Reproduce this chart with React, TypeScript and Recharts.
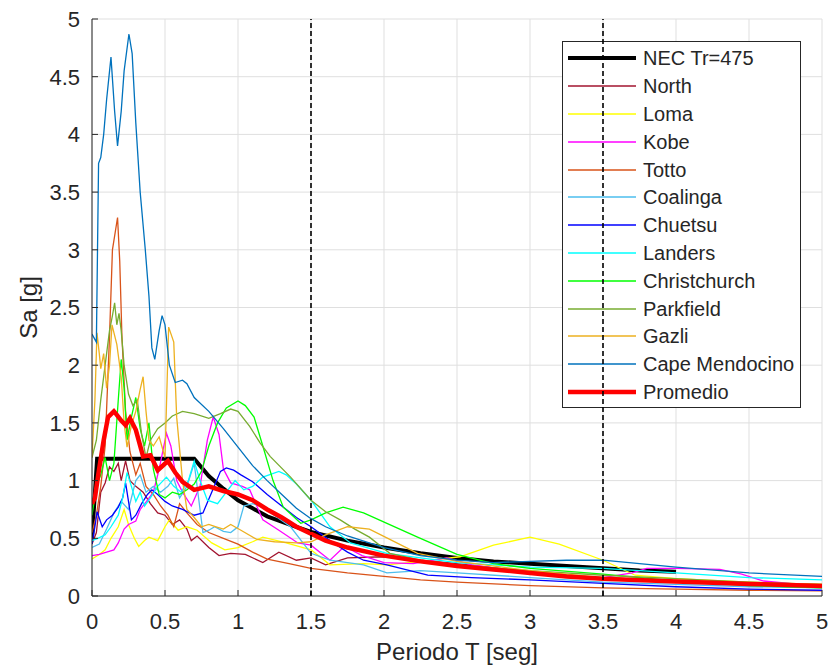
import { CartesianGrid, Legend, Line, LineChart, ReferenceLine, XAxis, YAxis } from "recharts";

type Pair = [number, number];

const FONT = '"Liberation Sans", Arial, Helvetica, sans-serif';
const INK = "#262626";

const periodTicks = [0, 0.5, 1, 1.5, 2, 2.5, 3, 3.5, 4, 4.5, 5];
const saTicks = [0, 0.5, 1, 1.5, 2, 2.5, 3, 3.5, 4, 4.5, 5];
const markedPeriods = [1.5, 3.5];

// [T (s), Sa (g)]
const necTr475: Pair[] = [
  [0, 0.5], [0.035, 1.19], [0.7, 1.19], [0.8, 1.04], [0.9, 0.93], [1.0, 0.83], [1.1, 0.76], [1.2, 0.69],
  [1.35, 0.62], [1.5, 0.555], [1.75, 0.48], [2.0, 0.42], [2.25, 0.37], [2.5, 0.33], [2.75, 0.3],
  [3.0, 0.28], [3.25, 0.26], [3.5, 0.24], [3.75, 0.22], [4.0, 0.21],
];

const north: Pair[] = [
  [0, 0.45], [0.03, 0.55], [0.06, 0.9], [0.09, 0.98], [0.12, 1.12], [0.15, 1.08], [0.18, 1.15], [0.2, 1.0],
  [0.23, 1.17], [0.26, 1.0], [0.3, 0.95], [0.35, 0.9], [0.4, 0.8], [0.45, 0.72], [0.5, 0.7], [0.55, 0.62],
  [0.6, 0.66], [0.65, 0.58], [0.68, 0.48], [0.72, 0.52], [0.8, 0.42], [0.87, 0.35], [0.95, 0.37],
  [1.05, 0.36], [1.17, 0.29], [1.28, 0.38], [1.4, 0.31], [1.5, 0.33], [1.6, 0.27], [1.75, 0.33],
  [2.0, 0.34], [2.25, 0.31], [2.5, 0.28], [3.0, 0.21], [3.5, 0.15], [4.0, 0.12], [4.5, 0.1], [5.0, 0.08],
];

const loma: Pair[] = [
  [0, 0.32], [0.05, 0.36], [0.09, 0.4], [0.13, 0.5], [0.18, 0.6], [0.22, 0.75], [0.25, 0.62], [0.29, 0.5],
  [0.32, 0.43], [0.36, 0.48], [0.39, 0.51], [0.45, 0.48], [0.5, 0.6], [0.53, 0.66], [0.59, 0.57],
  [0.65, 0.6], [0.72, 0.57], [0.82, 0.46], [0.91, 0.4], [1.0, 0.42], [1.1, 0.47], [1.17, 0.51],
  [1.33, 0.46], [1.5, 0.4], [1.63, 0.27], [1.86, 0.28], [2.02, 0.27], [2.25, 0.3], [2.52, 0.34],
  [2.75, 0.44], [3.0, 0.51], [3.2, 0.45], [3.5, 0.31], [3.72, 0.18], [4.0, 0.15], [4.5, 0.12], [5.0, 0.1],
];

const kobe: Pair[] = [
  [0, 0.35], [0.05, 0.36], [0.1, 0.38], [0.15, 0.4], [0.18, 0.46], [0.22, 0.58], [0.25, 0.62], [0.3, 0.65],
  [0.33, 0.75], [0.38, 0.83], [0.42, 0.9], [0.46, 1.1], [0.51, 1.41], [0.54, 1.3], [0.58, 1.0], [0.62, 0.9],
  [0.68, 0.78], [0.74, 0.95], [0.79, 1.35], [0.83, 1.55], [0.87, 1.4], [0.9, 1.1], [0.95, 0.98],
  [1.03, 0.95], [1.08, 0.92], [1.17, 0.66], [1.28, 0.57], [1.41, 0.46], [1.5, 0.44], [1.58, 0.36],
  [1.63, 0.31], [1.73, 0.43], [1.85, 0.35], [2.0, 0.29], [2.2, 0.28], [2.43, 0.33], [2.6, 0.27],
  [3.0, 0.2], [3.5, 0.16], [3.7, 0.2], [3.8, 0.24], [4.0, 0.24], [4.3, 0.23], [4.45, 0.19], [4.6, 0.13],
  [5.0, 0.08],
];

const totto: Pair[] = [
  [0, 0.55], [0.03, 0.7], [0.06, 0.95], [0.09, 1.3], [0.12, 2.25], [0.14, 3.0], [0.175, 3.28], [0.19, 2.9],
  [0.205, 2.25], [0.23, 1.6], [0.26, 1.25], [0.3, 1.05], [0.33, 1.15], [0.37, 0.95], [0.42, 0.88],
  [0.47, 0.78], [0.52, 0.7], [0.56, 0.6], [0.6, 0.8], [0.65, 0.72], [0.72, 0.62], [0.8, 0.55], [0.9, 0.5],
  [1.0, 0.45], [1.1, 0.38], [1.2, 0.32], [1.35, 0.28], [1.5, 0.24], [1.75, 0.2], [2.0, 0.17],
  [2.25, 0.14], [2.5, 0.12], [3.0, 0.09], [3.5, 0.07], [4.0, 0.06], [4.5, 0.05], [5.0, 0.045],
];

const coalinga: Pair[] = [
  [0, 0.42], [0.05, 0.45], [0.1, 0.58], [0.15, 0.72], [0.2, 0.82], [0.25, 0.75], [0.3, 1.0], [0.33, 1.05],
  [0.37, 0.9], [0.42, 0.95], [0.47, 0.9], [0.52, 0.95], [0.56, 1.02], [0.6, 0.85], [0.65, 0.95],
  [0.7, 1.15], [0.76, 0.55], [0.8, 0.57], [0.84, 0.6], [0.9, 0.56], [0.95, 0.55], [1.0, 0.6], [1.04, 0.78],
  [1.1, 0.8], [1.17, 0.77], [1.27, 0.68], [1.36, 0.6], [1.5, 0.37], [1.63, 0.31], [1.86, 0.27],
  [2.02, 0.2], [2.25, 0.22], [2.5, 0.2], [3.0, 0.16], [3.5, 0.12], [4.0, 0.1], [4.5, 0.08], [5.0, 0.07],
];

const chuetsu: Pair[] = [
  [0, 0.45], [0.02, 0.6], [0.035, 0.73], [0.07, 0.6], [0.1, 0.66], [0.14, 0.7], [0.18, 0.77], [0.21, 0.85],
  [0.23, 0.98], [0.27, 0.66], [0.3, 0.7], [0.34, 0.8], [0.38, 0.88], [0.41, 0.92], [0.45, 0.88],
  [0.5, 0.82], [0.55, 0.78], [0.62, 0.75], [0.7, 0.7], [0.76, 0.72], [0.82, 0.9], [0.88, 1.08],
  [0.92, 1.11], [0.97, 1.09], [1.02, 1.05], [1.1, 0.99], [1.2, 0.88], [1.3, 0.78], [1.4, 0.68],
  [1.5, 0.6], [1.63, 0.48], [1.75, 0.38], [1.86, 0.31], [2.02, 0.27], [2.3, 0.18], [2.6, 0.16],
  [3.0, 0.14], [3.5, 0.11], [4.0, 0.08], [4.5, 0.06], [5.0, 0.05],
];

const landers: Pair[] = [
  [0, 0.48], [0.04, 0.5], [0.09, 0.53], [0.13, 0.6], [0.18, 0.7], [0.21, 0.85], [0.24, 1.07], [0.27, 0.95],
  [0.3, 0.82], [0.33, 0.9], [0.36, 0.78], [0.4, 0.85], [0.45, 0.95], [0.51, 1.03], [0.56, 0.95],
  [0.61, 0.9], [0.66, 1.0], [0.7, 1.17], [0.74, 1.0], [0.79, 0.83], [0.86, 0.8], [0.92, 0.9], [0.98, 1.0],
  [1.04, 0.92], [1.1, 0.95], [1.17, 1.03], [1.28, 1.08], [1.33, 1.05], [1.4, 0.97], [1.5, 0.83],
  [1.63, 0.6], [1.77, 0.46], [2.02, 0.37], [2.25, 0.33], [2.5, 0.29], [3.0, 0.25], [3.5, 0.24],
  [4.0, 0.2], [4.5, 0.16], [5.0, 0.14],
];

const christchurch: Pair[] = [
  [0, 0.7], [0.03, 0.95], [0.06, 1.05], [0.09, 1.2], [0.12, 1.0], [0.15, 1.15], [0.18, 1.7], [0.2, 2.05],
  [0.22, 1.8], [0.24, 1.35], [0.27, 1.55], [0.3, 1.72], [0.33, 1.45], [0.36, 1.3], [0.39, 1.5],
  [0.42, 1.1], [0.46, 0.88], [0.5, 0.85], [0.55, 0.9], [0.6, 0.88], [0.65, 0.92], [0.7, 0.97],
  [0.75, 1.08], [0.8, 1.3], [0.86, 1.5], [0.92, 1.63], [1.0, 1.69], [1.05, 1.65], [1.11, 1.55],
  [1.17, 1.3], [1.24, 1.0], [1.31, 0.77], [1.43, 0.63], [1.5, 0.66], [1.6, 0.72], [1.72, 0.77],
  [1.86, 0.72], [2.02, 0.63], [2.23, 0.51], [2.5, 0.36], [2.75, 0.28], [3.0, 0.24], [3.5, 0.19],
  [4.0, 0.13], [4.5, 0.09], [5.0, 0.07],
];

const parkfield: Pair[] = [
  [0, 1.2], [0.03, 1.35], [0.06, 1.7], [0.09, 2.0], [0.12, 2.3], [0.14, 2.43], [0.155, 2.54], [0.17, 2.35],
  [0.185, 2.45], [0.2, 2.3], [0.22, 2.0], [0.25, 1.75], [0.28, 1.65], [0.31, 1.7], [0.34, 1.4],
  [0.37, 1.2], [0.4, 1.35], [0.45, 1.45], [0.5, 1.5], [0.55, 1.56], [0.62, 1.6], [0.7, 1.58],
  [0.8, 1.54], [0.88, 1.58], [0.95, 1.62], [1.0, 1.6], [1.08, 1.47], [1.15, 1.33], [1.22, 1.21],
  [1.36, 1.03], [1.5, 0.83], [1.6, 0.73], [1.7, 0.66], [1.8, 0.58], [1.9, 0.51], [2.04, 0.37],
  [2.25, 0.31], [2.5, 0.27], [3.0, 0.22], [3.5, 0.18], [4.0, 0.15], [4.5, 0.12], [5.0, 0.1],
];

const gazli: Pair[] = [
  [0, 1.2], [0.02, 1.7], [0.034, 2.28], [0.05, 2.1], [0.06, 1.97], [0.08, 2.1], [0.1, 1.8], [0.12, 2.0],
  [0.137, 2.35], [0.17, 2.18], [0.2, 1.9], [0.22, 1.5], [0.24, 1.29], [0.27, 1.48], [0.3, 1.6],
  [0.33, 1.79], [0.35, 1.9], [0.37, 1.6], [0.39, 1.35], [0.42, 1.3], [0.46, 1.38], [0.5, 1.2],
  [0.525, 2.33], [0.56, 2.2], [0.58, 1.55], [0.62, 1.0], [0.65, 0.75], [0.7, 0.68], [0.75, 0.6],
  [0.8, 0.62], [0.85, 0.6], [0.9, 0.58], [0.95, 0.62], [1.02, 0.57], [1.13, 0.49], [1.25, 0.47],
  [1.4, 0.46], [1.5, 0.47], [1.6, 0.53], [1.75, 0.6], [1.9, 0.58], [2.04, 0.49], [2.23, 0.37],
  [2.5, 0.3], [3.0, 0.22], [3.5, 0.16], [4.0, 0.13], [4.5, 0.11], [5.0, 0.1],
];

const capeMendocino: Pair[] = [
  [0, 2.27], [0.03, 2.2], [0.045, 3.75], [0.06, 3.8], [0.08, 4.0], [0.1, 4.3], [0.13, 4.67], [0.155, 4.2],
  [0.175, 3.9], [0.2, 4.2], [0.22, 4.55], [0.253, 4.87], [0.275, 4.7], [0.3, 4.1], [0.33, 3.5],
  [0.365, 3.0], [0.39, 2.6], [0.41, 2.15], [0.43, 2.05], [0.46, 2.3], [0.48, 2.43], [0.5, 2.35],
  [0.53, 2.0], [0.57, 1.85], [0.62, 1.87], [0.65, 1.84], [0.7, 1.72], [0.8, 1.6], [0.9, 1.45],
  [1.0, 1.29], [1.1, 1.13], [1.2, 1.0], [1.3, 0.88], [1.4, 0.76], [1.5, 0.67], [1.6, 0.6],
  [1.75, 0.52], [2.0, 0.42], [2.25, 0.35], [2.5, 0.31], [2.75, 0.29], [3.0, 0.3], [3.25, 0.31],
  [3.5, 0.31], [3.75, 0.28], [4.0, 0.25], [4.5, 0.2], [5.0, 0.17],
];

const promedio: Pair[] = [
  [0, 0.8], [0.02, 0.85], [0.045, 1.07], [0.08, 1.35], [0.11, 1.55], [0.15, 1.6], [0.17, 1.57],
  [0.2, 1.52], [0.23, 1.48], [0.26, 1.54], [0.3, 1.44], [0.35, 1.21], [0.4, 1.22], [0.45, 1.09],
  [0.52, 1.17], [0.57, 1.07], [0.62, 0.99], [0.7, 0.92], [0.8, 0.95], [0.9, 0.91], [1.0, 0.88],
  [1.1, 0.83], [1.2, 0.75], [1.3, 0.68], [1.4, 0.6], [1.5, 0.54], [1.6, 0.48], [1.75, 0.42],
  [2.0, 0.35], [2.25, 0.3], [2.5, 0.26], [2.75, 0.23], [3.0, 0.2], [3.25, 0.17], [3.5, 0.15],
  [4.0, 0.125], [4.5, 0.105], [5.0, 0.087],
];

const series = [
  { name: "NEC Tr=475", points: necTr475, color: "#000000", width: 4 },
  { name: "North", points: north, color: "#A2142F", width: 1.3 },
  { name: "Loma", points: loma, color: "#FFFF00", width: 1.3 },
  { name: "Kobe", points: kobe, color: "#FF00FF", width: 1.3 },
  { name: "Totto", points: totto, color: "#D95319", width: 1.3 },
  { name: "Coalinga", points: coalinga, color: "#4DBEEE", width: 1.3 },
  { name: "Chuetsu", points: chuetsu, color: "#0000FF", width: 1.3 },
  { name: "Landers", points: landers, color: "#00FFFF", width: 1.3 },
  { name: "Christchurch", points: christchurch, color: "#00FF00", width: 1.3 },
  { name: "Parkfield", points: parkfield, color: "#77AC30", width: 1.3 },
  { name: "Gazli", points: gazli, color: "#EDB120", width: 1.3 },
  { name: "Cape Mendocino", points: capeMendocino, color: "#0072BD", width: 1.3 },
  { name: "Promedio", points: promedio, color: "#FF0000", width: 4.5 },
];

const toRows = (points: Pair[]) => points.map(([T, Sa]) => ({ T, Sa }));

function LegendBox() {
  return (
    <div
      style={{
        boxSizing: "border-box",
        width: 239,
        height: 367,
        border: `1px solid ${INK}`,
        background: "#fff",
        paddingTop: 2.5,
        fontFamily: FONT,
      }}
    >
      {series.map((s) => (
        <div key={s.name} style={{ display: "flex", alignItems: "center", height: 27.8 }}>
          <svg width={80} height={10} style={{ flex: "none" }}>
            <line x1={5} x2={73} y1={5} y2={5} stroke={s.color} strokeWidth={s.width} />
          </svg>
          <span style={{ fontSize: 20, lineHeight: "20px", color: INK, whiteSpace: "nowrap" }}>{s.name}</span>
        </div>
      ))}
    </div>
  );
}

function YTitle({ viewBox }: any) {
  const x = viewBox.x + 37;
  const y = viewBox.y + viewBox.height / 2;
  return (
    <text x={x} y={y} transform={`rotate(-90 ${x} ${y})`} textAnchor="middle" fill={INK} fontSize={24}>
      Sa [g]
    </text>
  );
}

export default function App() {
  return (
    <div style={{ position: "absolute", left: 0, top: 0, width: 830, height: 670, background: "#fff", fontFamily: FONT }}>
      <LineChart width={830} height={670} margin={{ top: 19, right: 8, left: 0, bottom: 0 }}>
        <CartesianGrid stroke="#dfdfdf" strokeWidth={1} />
        <XAxis
          dataKey="T"
          type="number"
          domain={[0, 5]}
          ticks={periodTicks}
          allowDataOverflow
          height={74}
          stroke={INK}
          tickSize={-6}
          tickMargin={23}
          tick={{ fill: INK, fontSize: 22 }}
          label={{ value: "Periodo T [seg]", position: "insideBottom", offset: 10, fill: INK, fontSize: 24 }}
        />
        <XAxis
          xAxisId="top"
          orientation="top"
          dataKey="T"
          type="number"
          domain={[0, 5]}
          ticks={periodTicks}
          allowDataOverflow
          height={0}
          stroke={INK}
          tickSize={-6}
          tick={false}
        />
        <YAxis
          type="number"
          domain={[0, 5]}
          ticks={saTicks}
          allowDataOverflow
          width={92}
          stroke={INK}
          tickSize={-6}
          tickMargin={18}
          tick={{ fill: INK, fontSize: 22 }}
          label={<YTitle />}
        />
        <YAxis
          yAxisId="right"
          orientation="right"
          type="number"
          domain={[0, 5]}
          ticks={saTicks}
          allowDataOverflow
          width={0}
          stroke={INK}
          tickSize={-6}
          tick={false}
        />
        {series.map((s) => (
          <Line
            key={s.name}
            name={s.name}
            data={toRows(s.points)}
            dataKey="Sa"
            type="linear"
            stroke={s.color}
            strokeWidth={s.width}
            dot={false}
            activeDot={false}
            isAnimationActive={false}
          />
        ))}
        <Legend
          layout="vertical"
          align="center"
          verticalAlign="middle"
          wrapperStyle={{ left: 562, top: 41, width: 239, height: 367 }}
          content={() => <LegendBox />}
        />
      </LineChart>
      <div style={{ position: "absolute", left: 0, top: 0, pointerEvents: "none" }}>
        <LineChart width={830} height={670} margin={{ top: 19, right: 8, left: 92, bottom: 74 }} data={toRows(necTr475)}>
          <XAxis dataKey="T" type="number" domain={[0, 5]} allowDataOverflow hide />
          <YAxis type="number" domain={[0, 5]} allowDataOverflow hide />
          {markedPeriods.map((t) => (
            <ReferenceLine key={t} x={t} stroke="#000" strokeWidth={1.6} strokeDasharray="5 3" />
          ))}
        </LineChart>
      </div>
    </div>
  );
}
